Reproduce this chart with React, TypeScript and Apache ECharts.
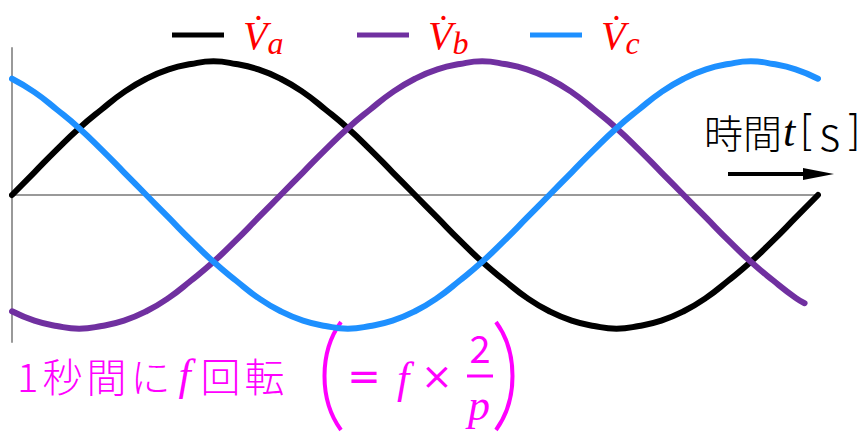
import React, { useEffect, useRef } from "react";
import * as echarts from "echarts";

// phase angle (degrees) along one period of the time axis
const phaseDeg = [0, 10, 20, 30, 40, 50, 60, 70, 80, 90, 100, 110, 120, 130, 140, 150, 160, 170, 180, 190, 200, 210, 220, 230, 240, 250, 260, 270, 280, 290, 300, 310, 320, 330, 340, 350, 360];
const phaseDegB = [0, 10, 20, 30, 40, 50, 60, 70, 80, 90, 100, 110, 120, 130, 140, 150, 160, 170, 180, 190, 200, 210, 220, 230, 240, 250, 260, 270, 280, 290, 300, 310, 320, 330, 340, 350, 354];

// instantaneous voltages (relative to peak)
const vaValues = [0, 0.17, 0.34, 0.5, 0.64, 0.77, 0.87, 0.94, 0.98, 1, 0.98, 0.94, 0.87, 0.77, 0.64, 0.5, 0.34, 0.17, 0, -0.17, -0.34, -0.5, -0.64, -0.77, -0.87, -0.94, -0.98, -1, -0.98, -0.94, -0.87, -0.77, -0.64, -0.5, -0.34, -0.17, 0];
const vbValues = [-0.87, -0.94, -0.98, -1, -0.98, -0.94, -0.87, -0.77, -0.64, -0.5, -0.34, -0.17, 0, 0.17, 0.34, 0.5, 0.64, 0.77, 0.87, 0.94, 0.98, 1, 0.98, 0.94, 0.87, 0.77, 0.64, 0.5, 0.34, 0.17, 0, -0.17, -0.34, -0.5, -0.64, -0.77, -0.81];
const vcValues = [0.87, 0.77, 0.64, 0.5, 0.34, 0.17, 0, -0.17, -0.34, -0.5, -0.64, -0.77, -0.87, -0.94, -0.98, -1, -0.98, -0.94, -0.87, -0.77, -0.64, -0.5, -0.34, -0.17, 0, 0.17, 0.34, 0.5, 0.64, 0.77, 0.87, 0.94, 0.98, 1, 0.98, 0.94, 0.87];

const seriesNames = ["Va", "Vb", "Vc"];
const subscripts = ["a", "b", "c"];
const seriesColors = ["#000000", "#7030A0", "#1E90FF"];

const timeLabelMain = "時間";
const timeLabelVar = "t";
const timeLabelUnit = "s";
const noteBefore = ["1", "秒", "間", "に"];
const noteVar = "f";
const noteAfter = ["回", "転"];

const MAGENTA = "#FF00FF";
const RED = "#FF0000";
const JP = "'Noto Sans CJK JP', 'Noto Sans', sans-serif";
const MATH = "'Liberation Serif', 'DejaVu Serif', serif";
const SANS = "'DejaVu Sans', sans-serif";

export default function App() {
  const ref = useRef<HTMLDivElement>(null);

  useEffect(() => {
    if (!ref.current) return;
    const chart = echarts.init(ref.current, null, { renderer: "svg" });

    const pairs = (xs: number[], ys: number[]) => xs.map((x, i) => [x, ys[i]]);
    const allData = [pairs(phaseDeg, vaValues), pairs(phaseDegB, vbValues), pairs(phaseDeg, vcValues)];

    const legendLeft = [167, 352, 525];
    const rich = {
      v: { fontFamily: MATH, fontStyle: "italic", fontSize: 40, color: RED },
      s: { fontFamily: MATH, fontStyle: "italic", fontSize: 32, color: RED, padding: [16, 0, 0, 0], verticalAlign: "bottom" },
    };

    const noteText =
      noteBefore.map((c) => `{a|${c}}`).join("") + `{f|${noteVar}}` + noteAfter.map((c) => `{a|${c}}`).join("");

    const option: any = {
      animation: false,
      backgroundColor: "#ffffff",
      grid: { left: 12, right: 48, top: 48, bottom: 95, containLabel: false },
      xAxis: {
        type: "value",
        min: 0,
        max: 360,
        axisLine: { show: true, onZero: true, lineStyle: { color: "#999999", width: 2 } },
        axisTick: { show: false },
        axisLabel: { show: false },
        splitLine: { show: false },
      },
      yAxis: {
        type: "value",
        min: -1.1,
        max: 1.1,
        axisLine: { show: true, lineStyle: { color: "#999999", width: 2 } },
        axisTick: { show: false },
        axisLabel: { show: false },
        splitLine: { show: false },
      },
      legend: seriesNames.map((name, i) => ({
        data: [name],
        left: legendLeft[i],
        top: 10,
        icon: "rect",
        itemWidth: 52,
        itemHeight: 5,
        selectedMode: false,
        formatter: () => `{v|V\u0307}{s|${subscripts[i]}}`,
        textStyle: { rich, padding: [0, 0, 0, 14] },
      })),
      series: seriesNames.map((name, i) => ({
        name,
        type: "line",
        data: allData[i],
        smooth: true,
        showSymbol: false,
        symbol: "none",
        color: seriesColors[i],
        lineStyle: { color: seriesColors[i], width: 6, cap: "round" },
        z: 2 + i,
      })),
      graphic: [
        {
          type: "text",
          x: 704,
          y: 131,
          style: {
            text: `{a|${timeLabelMain}}{t|${timeLabelVar}}{b|[}{u|${timeLabelUnit}}{b|]}`,
            verticalAlign: "middle",
            rich: {
              a: { fontFamily: JP, fontSize: 39, fontWeight: 300, fill: "#000000" },
              t: { fontFamily: MATH, fontStyle: "italic", fontSize: 44, fill: "#000000", padding: [0, 2, 0, 1] },
              b: { fontFamily: SANS, fontWeight: 200, fontSize: 42, fill: "#000000", padding: [0, 2, 0, 2] },
              u: { fontFamily: JP, fontSize: 46, fontWeight: 300, fill: "#000000", padding: [0, 2, 0, 2] },
            },
          },
        },
        { type: "line", shape: { x1: 728, y1: 174, x2: 808, y2: 174 }, style: { stroke: "#000000", lineWidth: 4 } },
        { type: "polygon", shape: { points: [[803, 168], [834, 174], [803, 180]] }, style: { fill: "#000000" } },
        {
          type: "text",
          x: 15,
          y: 375,
          style: {
            text: noteText,
            verticalAlign: "middle",
            rich: {
              a: { fontFamily: JP, fontSize: 40, fontWeight: 300, fill: MAGENTA, padding: [0, 2, 0, 2] },
              f: { fontFamily: MATH, fontStyle: "italic", fontSize: 44, fill: MAGENTA, padding: [0, 8, 0, 6] },
            },
          },
        },
        { type: "bezierCurve", shape: { x1: 341, y1: 322, cpx1: 319, cpy1: 352, cpx2: 319, cpy2: 400, x2: 341, y2: 430 }, style: { stroke: MAGENTA, lineWidth: 4, fill: "none" } },
        { type: "bezierCurve", shape: { x1: 496, y1: 322, cpx1: 518, cpy1: 352, cpx2: 518, cpy2: 400, x2: 496, y2: 430 }, style: { stroke: MAGENTA, lineWidth: 4, fill: "none" } },
        { type: "text", x: 364, y: 376, style: { text: "=", fontFamily: SANS, fontSize: 40, fill: MAGENTA, align: "center", verticalAlign: "middle" } },
        { type: "text", x: 403, y: 378, style: { text: "f", fontFamily: MATH, fontStyle: "italic", fontSize: 44, fill: MAGENTA, align: "center", verticalAlign: "middle" } },
        { type: "text", x: 437, y: 376, style: { text: "×", fontFamily: SANS, fontSize: 38, fill: MAGENTA, align: "center", verticalAlign: "middle" } },
        { type: "text", x: 480, y: 346, style: { text: "2", fontFamily: JP, fontSize: 38, fill: MAGENTA, align: "center", verticalAlign: "middle" } },
        { type: "line", shape: { x1: 467, y1: 376, x2: 493, y2: 376 }, style: { stroke: MAGENTA, lineWidth: 3 } },
        { type: "text", x: 479, y: 405, style: { text: "p", fontFamily: MATH, fontStyle: "italic", fontSize: 44, fill: MAGENTA, align: "center", verticalAlign: "middle" } },
      ],
    };

    chart.setOption(option);
    return () => chart.dispose();
  }, []);

  return (
    <div
      ref={ref}
      style={{ position: "fixed", left: 0, top: 0, width: 866, height: 437, background: "#fff" }}
    />
  );
}
